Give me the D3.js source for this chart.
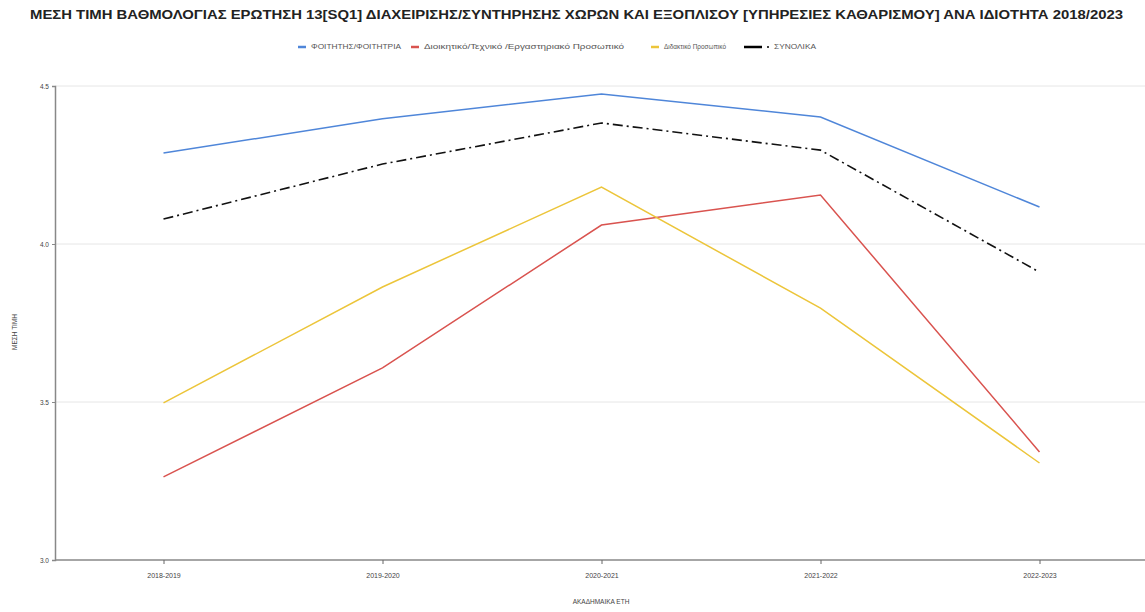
<!DOCTYPE html>
<html><head><meta charset="utf-8">
<script src="https://cdn.jsdelivr.net/npm/d3@7"></script>
<style>body{margin:0;background:#fff;}svg{display:block;font-family:"Liberation Sans",Arial,sans-serif;}</style>
</head><body><svg id="c" width="1145" height="612"></svg>
<script>
const years = ["2018-2019","2019-2020","2020-2021","2021-2022","2022-2023"];
const seriesNames = ["ΦΟΙΤΗΤΗΣ/ΦΟΙΤΗΤΡΙΑ","Διοικητικό/Τεχνικό /Εργαστηριακό Προσωπικό","Διδακτικό Προσωπικό","ΣΥΝΟΛΙΚΑ"];
const students = [4.288,4.396,4.475,4.402,4.117];
const admin = [3.263,3.608,4.060,4.155,3.342];
const teaching = [3.497,3.864,4.180,3.797,3.307];
const total = [4.079,4.253,4.383,4.297,3.911];
const yTicks = [3.0,3.5,4.0,4.5];
const colors = ["#4f86d9","#d9534f","#ecc53a","#111111"];
const dashes = [null,null,null,"10,4,2,4"];
const allSeries = [students,admin,teaching,total];

const svg = d3.select("#c");
const x = d3.scalePoint().domain(years).range([54,1149]).padding(0.5);
const y = d3.scaleLinear().domain([3.0,4.5]).range([560,86]);

svg.append("text").attr("x",30).attr("y",19)
  .attr("font-size",12.5).attr("font-weight","bold").attr("fill","#222")
  .attr("textLength",1093).attr("lengthAdjust","spacingAndGlyphs")
  .text("ΜΕΣΗ ΤΙΜΗ ΒΑΘΜΟΛΟΓΙΑΣ ΕΡΩΤΗΣΗ 13[SQ1] ΔΙΑΧΕΙΡΙΣΗΣ/ΣΥΝΤΗΡΗΣΗΣ ΧΩΡΩΝ ΚΑΙ ΕΞΟΠΛΙΣΟΥ [ΥΠΗΡΕΣΙΕΣ ΚΑΘΑΡΙΣΜΟΥ] ΑΝΑ ΙΔΙΟΤΗΤΑ 2018/2023");

// grid
svg.append("g").selectAll("line").data(yTicks.slice(1)).join("line")
  .attr("x1",55).attr("x2",1145).attr("y1",d=>y(d)).attr("y2",d=>y(d))
  .attr("stroke","#e6e6e6").attr("stroke-width",1);

// axes
const yAxis = svg.append("g").attr("transform","translate(55,0)")
  .call(d3.axisLeft(y).tickValues(yTicks).tickFormat(d3.format(".1f")).tickSize(3));
yAxis.select(".domain").attr("stroke","#888").attr("stroke-width",1.5);
yAxis.selectAll("line").attr("stroke","#888");
yAxis.selectAll("text").attr("font-size",6.5).attr("fill","#444");

const xAxis = svg.append("g").attr("transform","translate(0,560)")
  .call(d3.axisBottom(x).tickSize(4));
xAxis.select(".domain").attr("stroke","#888").attr("stroke-width",1.5).attr("d","M55,0H1145");
xAxis.selectAll("line").attr("stroke","#666");
xAxis.selectAll("text").attr("font-size",7).attr("fill","#444").attr("dy","1.6em");

svg.append("text").attr("x",601).attr("y",604).attr("text-anchor","middle")
  .attr("font-size",6.5).attr("fill","#444").text("ΑΚΑΔΗΜΑΙΚΑ ΕΤΗ");
svg.append("text").attr("transform","translate(17,332) rotate(-90)").attr("text-anchor","middle")
  .attr("font-size",6.5).attr("fill","#444").text("ΜΕΣΗ ΤΙΜΗ");

// lines
const line = d3.line().x((d,i)=>x(years[i])).y(d=>y(d));
allSeries.forEach((s,k)=>{
  svg.append("path").datum(s).attr("d",line).attr("fill","none")
    .attr("stroke",colors[k]).attr("stroke-width",k===3?1.6:1.5)
    .attr("stroke-dasharray",dashes[k]);
});

// legend
const legX = [298,411,651,744];
const legW = [90,200,62,42];
const lg = svg.append("g");
seriesNames.forEach((n,k)=>{
  const g = lg.append("g").attr("transform",`translate(${legX[k]},47)`);
  if(k===3){
    g.append("line").attr("x1",0).attr("x2",18).attr("y1",0).attr("y2",0).attr("stroke","#000").attr("stroke-width",2.5);
    g.append("circle").attr("cx",24).attr("cy",0).attr("r",1).attr("fill","#000");
    g.append("text").attr("x",30).attr("y",2.3).attr("font-size",6.5).attr("fill","#555")
      .attr("textLength",legW[k]).attr("lengthAdjust","spacingAndGlyphs").text(n);
  } else {
    g.append("line").attr("x1",0).attr("x2",8).attr("y1",0).attr("y2",0).attr("stroke",colors[k]).attr("stroke-width",2.5);
    g.append("text").attr("x",13).attr("y",2.3).attr("font-size",6.5).attr("fill","#555")
      .attr("textLength",legW[k]).attr("lengthAdjust","spacingAndGlyphs").text(n);
  }
});
</script></body></html>
